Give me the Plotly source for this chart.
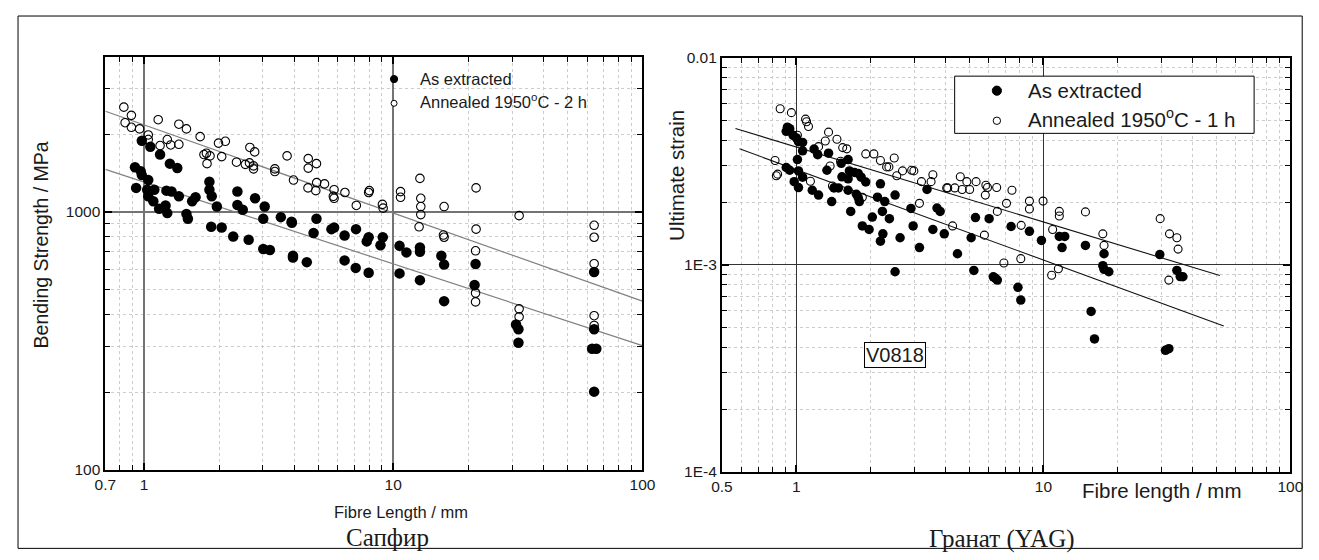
import math
import plotly.graph_objects as go

W, H = 1319, 560

# ---------------- Left panel: Sapphire (bending strength, MPa) ----------------
sap_ext_len = [0.98, 1.06, 1.16, 1.27, 1.36, 0.92, 0.97, 0.98, 1.04, 0.93, 1.03, 1.1, 1.04, 1.09,
               1.15, 1.23, 1.29, 1.22, 1.24, 1.38, 1.48, 1.61, 1.56, 1.83, 1.83, 1.87, 1.96, 2.37,
               2.37, 2.49, 2.79, 3.05, 3.54, 3.91, 3.01, 4.92, 1.5, 1.86, 2.05, 2.28, 2.63, 3.01,
               3.2, 3.92, 3.96, 3.96, 4.5, 4.79, 5.65, 5.79, 6.38, 6.38, 7.09, 7.07, 7.97, 7.83,
               7.97, 9.08, 8.89, 10.6, 11.3, 12.8, 12.8, 10.6, 12.8, 15.6, 16, 16, 21.4, 21.2,
               31.1, 31.8, 31.8, 64, 64, 62.8, 65.3, 64]
sap_ext_str = [1890, 1790, 1670, 1540, 1480, 1490, 1440, 1390, 1330, 1240, 1220, 1220, 1150, 1100,
               1030, 1210, 1200, 1060, 990, 1150, 983, 1140, 1100, 1310, 1220, 1150, 1050, 1200,
               1065, 1020, 1130, 1050, 955, 917, 941, 941, 941, 876, 871, 803, 780, 718,
               712, 909, 676, 666, 639, 829, 858, 871, 810, 649, 858, 607, 798, 769,
               581, 798, 743, 739, 697, 728, 701, 578, 544, 676, 625, 451, 628, 521,
               366, 351, 311, 585, 351, 295, 295, 201]

sap_ann_len = [0.83, 0.89, 0.84, 0.89, 0.96, 1.04, 1.04, 1.14, 1.16, 1.24, 1.28, 1.38, 1.38, 1.48,
               1.68, 1.74, 1.78, 1.84, 1.79, 1.99, 2.12, 2.05, 2.35, 2.55, 2.66, 2.78, 2.65, 2.75,
               2.75, 3.35, 3.35, 3.75, 3.98, 4.56, 4.56, 4.92, 4.55, 4.89, 4.93, 5.3, 5.79, 5.75,
               5.79, 6.4, 7.11, 8.02, 7.97, 9.05, 9.11, 12.8, 10.7, 10.7, 12.9, 12.9, 12.9, 16,
               21.5, 32, 12.7, 15.9, 16, 21.5, 64, 64, 21.4, 21.4, 21.4, 32, 32, 64, 64, 64]
sap_ann_str = [2550, 2370, 2220, 2130, 2100, 1990, 1910, 2280, 1810, 1910, 1820, 1830, 2190, 2100,
               1960, 1670, 1690, 1650, 1540, 1850, 1880, 1640, 1560, 1530, 1780, 1710, 1550, 1510,
               1470, 1470, 1435, 1650, 1330, 1610, 1480, 1540, 1240, 1210, 1300, 1285, 1220, 1150,
               1130, 1190, 1060, 1210, 1190, 1070, 1035, 1350, 1200, 1140, 1130, 1050, 977, 1050,
               1240, 968, 876, 814, 798, 858, 888, 798, 707, 485, 448, 421, 392, 630, 396, 363]

# fitted lines (end points)
sap_fit_ann_len = [0.7, 100]
sap_fit_ann_str = [2460, 451]
sap_fit_ext_len = [0.7, 100]
sap_fit_ext_str = [1463, 303]

# ---------------- Right panel: YAG (ultimate strain) ----------------
yag_ext_len = [0.92, 0.91, 0.94, 0.97, 1.0, 1.02, 1.06, 1.06, 1.18, 1.22, 1.35, 1.01, 0.91, 0.94,
               1.02, 1.33, 0.98, 1.02, 1.06, 1.16, 1.23, 1.52, 1.62, 1.64, 1.53, 1.62, 1.72, 1.78,
               1.83, 1.91, 1.42, 1.48, 1.62, 1.75, 1.78, 1.80, 1.39, 1.66, 2.19, 2.13, 2.28, 2.51,
               2.23, 2.03, 2.38, 1.85, 1.97, 2.24, 2.19, 2.63, 2.91, 2.97, 3.38, 3.71, 3.82, 3.57,
               3.97, 3.15, 4.49, 2.51, 5.23, 5.31, 5.10, 6.03, 7.40, 8.78, 9.82, 11.6, 12.2, 11.9,
               14.8, 17.6, 6.27, 6.51, 6.40, 7.89, 8.10, 17.4, 17.6, 18.4, 15.6, 16.1, 29.6, 34.7,
               35.8, 36.7, 31.2, 32.2]
yag_ext_strain = [4.62e-3, 4.41e-3, 4.54e-3, 4.22e-3, 4.10e-3, 3.93e-3, 3.90e-3, 3.55e-3, 3.62e-3,
                  3.40e-3, 3.46e-3, 3.22e-3, 2.95e-3, 2.86e-3, 2.84e-3, 2.86e-3, 2.52e-3, 2.36e-3,
                  2.65e-3, 2.29e-3, 2.17e-3, 3.09e-3, 3.22e-3, 2.84e-3, 2.66e-3, 2.60e-3, 2.79e-3,
                  2.76e-3, 2.65e-3, 2.51e-3, 2.35e-3, 2.35e-3, 2.29e-3, 2.19e-3, 2.11e-3, 2.02e-3,
                  2.02e-3, 1.81e-3, 2.46e-3, 2.12e-3, 2.02e-3, 2.17e-3, 1.81e-3, 1.70e-3, 1.67e-3,
                  1.54e-3, 1.48e-3, 1.41e-3, 1.30e-3, 1.35e-3, 1.87e-3, 1.54e-3, 2.31e-3, 1.88e-3,
                  1.81e-3, 1.48e-3, 1.41e-3, 1.21e-3, 1.13e-3, 0.925e-3, 0.939e-3, 1.69e-3, 1.35e-3,
                  1.67e-3, 1.53e-3, 1.45e-3, 1.31e-3, 1.37e-3, 1.37e-3, 1.21e-3, 1.24e-3, 1.13e-3,
                  0.874e-3, 0.843e-3, 0.86e-3, 0.778e-3, 0.675e-3, 0.99e-3, 0.95e-3, 0.925e-3,
                  0.595e-3, 0.438e-3, 1.12e-3, 0.939e-3, 0.877e-3, 0.875e-3, 0.386e-3, 0.393e-3]

yag_ann_len = [0.86, 0.955, 1.09, 1.10, 1.12, 1.35, 1.31, 1.46, 1.54, 1.60, 1.23, 1.91, 2.06, 2.19,
               2.32, 2.37, 2.49, 2.69, 2.55, 2.93, 2.99, 3.21, 3.57, 3.51, 4.10, 0.82, 0.83, 0.84,
               1.14, 1.37, 1.40, 1.51, 1.85, 3.15, 4.29, 1.01, 4.61, 4.90, 5.34, 4.06, 4.38, 4.69,
               5.03, 5.85, 5.94, 5.82, 6.47, 7.46, 7.09, 8.78, 8.78, 9.97, 6.51, 8.13, 11.6, 11.6,
               14.8, 10.9, 17.4, 29.7, 32.4, 34.7, 5.77, 17.6, 35.1, 6.92, 8.10, 10.8, 11.5, 32.2]
yag_ann_strain = [5.67e-3, 5.43e-3, 5.05e-3, 4.91e-3, 4.65e-3, 4.37e-3, 3.96e-3, 4.04e-3, 3.68e-3,
                  3.63e-3, 3.72e-3, 3.43e-3, 3.43e-3, 3.19e-3, 2.97e-3, 2.97e-3, 3.28e-3, 2.84e-3,
                  2.69e-3, 2.86e-3, 2.84e-3, 2.52e-3, 2.72e-3, 2.52e-3, 2.35e-3, 3.19e-3, 2.69e-3,
                  2.74e-3, 2.53e-3, 3.00e-3, 2.40e-3, 3.16e-3, 2.12e-3, 1.98e-3, 1.54e-3, 4.22e-3,
                  2.66e-3, 2.52e-3, 2.52e-3, 2.35e-3, 2.35e-3, 2.31e-3, 2.31e-3, 2.42e-3, 2.36e-3,
                  2.17e-3, 2.36e-3, 2.29e-3, 1.98e-3, 2.03e-3, 1.86e-3, 2.03e-3, 1.81e-3, 1.55e-3,
                  1.81e-3, 1.72e-3, 1.80e-3, 1.48e-3, 1.41e-3, 1.67e-3, 1.41e-3, 1.35e-3, 1.39e-3,
                  1.24e-3, 1.19e-3, 1.02e-3, 1.07e-3, 0.89e-3, 0.956e-3, 0.843e-3]

yag_fit_ann_len = [0.567, 51.8]
yag_fit_ann_strain = [4.55e-3, 8.87e-4]
yag_fit_ext_len = [0.589, 53.7]
yag_fit_ext_strain = [3.63e-3, 5.06e-4]

# tick labels
left_x_ticks = [0.7, 1, 10, 100]
left_x_ticktext = ["0.7", "1", "10", "100"]
left_y_ticks = [100, 1000]
left_y_ticktext = ["100", "1000"]
right_x_ticks = [0.5, 1, 10, 100]
right_x_ticktext = ["0.5", "1", "10", "100"]
right_y_ticks = [1e-4, 1e-3, 1e-2]
right_y_ticktext = ["1E-4", "1E-3", "0.01"]

legend_left = ["As extracted", "Annealed 1950<sup>o</sup>C - 2 h"]
legend_right = ["As extracted", "Annealed 1950<sup>o</sup>C - 1 h"]

SANS = "Liberation Sans, Arial, sans-serif"
SERIF = "Liberation Serif, Times New Roman, serif"
INK = "#1a1a1a"

# the page body adds an 8 px margin; layout positions are given in screen pixels
OX, OY = 8, 8


def px(x):
    return (x - OX) / W


def py(y):
    return 1 - (y - OY) / H


fig = go.Figure()

# left panel traces
fig.add_trace(go.Scatter(x=sap_fit_ann_len, y=sap_fit_ann_str, mode="lines",
                         line=dict(color="#808080", width=1.2), xaxis="x", yaxis="y", showlegend=False))
fig.add_trace(go.Scatter(x=sap_fit_ext_len, y=sap_fit_ext_str, mode="lines",
                         line=dict(color="#808080", width=1.2), xaxis="x", yaxis="y", showlegend=False))
fig.add_trace(go.Scatter(x=sap_ext_len, y=sap_ext_str, mode="markers", name=legend_left[0],
                         marker=dict(symbol="circle", size=10.5, color="black", line=dict(width=0)),
                         xaxis="x", yaxis="y", showlegend=False))
fig.add_trace(go.Scatter(x=sap_ann_len, y=sap_ann_str, mode="markers", name=legend_left[1],
                         marker=dict(symbol="circle-open", size=8.5, color="black", line=dict(width=1.1)),
                         xaxis="x", yaxis="y", showlegend=False))

# right panel traces
fig.add_trace(go.Scatter(x=yag_fit_ann_len, y=yag_fit_ann_strain, mode="lines",
                         line=dict(color="#111111", width=1.1), xaxis="x2", yaxis="y2", showlegend=False))
fig.add_trace(go.Scatter(x=yag_fit_ext_len, y=yag_fit_ext_strain, mode="lines",
                         line=dict(color="#111111", width=1.1), xaxis="x2", yaxis="y2", showlegend=False))
fig.add_trace(go.Scatter(x=yag_ext_len, y=yag_ext_strain, mode="markers", name=legend_right[0],
                         marker=dict(symbol="circle", size=9.5, color="black", line=dict(width=0)),
                         xaxis="x2", yaxis="y2", showlegend=False))
fig.add_trace(go.Scatter(x=yag_ann_len, y=yag_ann_strain, mode="markers", name=legend_right[1],
                         marker=dict(symbol="circle-open", size=8, color="black", line=dict(width=1.1)),
                         xaxis="x2", yaxis="y2", showlegend=False))


def log_axis(domain, rng, tickvals, ticktext, minor_vals, major_grid, major_grid_w, font_size, anchor):
    return dict(
        type="log", domain=domain, range=rng, anchor=anchor,
        tickmode="array", tickvals=tickvals, ticktext=ticktext,
        ticks="inside", ticklen=7, tickwidth=1.5, tickcolor="black",
        showline=True, linecolor="black", linewidth=2, mirror="ticks",
        showgrid=True, gridcolor=major_grid, gridwidth=major_grid_w,
        zeroline=False,
        tickfont=dict(family=SANS, size=font_size, color=INK),
        minor=dict(tickmode="array", tickvals=minor_vals, ticks="inside", ticklen=5,
                   tickwidth=1.2, tickcolor="black", showgrid=True, gridcolor="#cccccc",
                   griddash="dot", gridwidth=1),
    )


def decade(base, ks):
    return [k * base for k in ks]


left_x_minor = [0.8, 0.9] + decade(1, range(2, 10)) + decade(10, range(2, 10))
left_y_minor = decade(100, range(2, 10)) + [2000, 3000]
right_x_minor = [0.6, 0.7, 0.8, 0.9] + decade(1, range(2, 10)) + decade(10, range(2, 10))
right_y_minor = decade(1e-4, range(2, 10)) + decade(1e-3, range(2, 10))

fig.update_layout(
    width=W, height=H,
    margin=dict(l=0, r=0, t=0, b=0),
    paper_bgcolor="white", plot_bgcolor="white",
    showlegend=False,
    xaxis=log_axis([px(96), px(643)], [math.log10(0.7), 2], left_x_ticks, left_x_ticktext,
                   left_x_minor, "#737373", 1.6, 15.5, "y"),
    yaxis=log_axis([py(475), py(49)], [2, math.log10(4000)], left_y_ticks, left_y_ticktext,
                   left_y_minor, "#737373", 1.6, 15.5, "x"),
    xaxis2=log_axis([px(724), px(1303)], [math.log10(0.5), 2], right_x_ticks, right_x_ticktext,
                    right_x_minor, "#333333", 1, 15.5, "y2"),
    yaxis2=log_axis([py(477), py(50)], [-4, -2], right_y_ticks, right_y_ticktext,
                    right_y_minor, "#333333", 1, 15.5, "x2"),
)

shapes = []
# outer frame
shapes.append(dict(type="rect", xref="paper", yref="paper", x0=px(7), x1=px(1315), y0=py(556), y1=py(7),
                   line=dict(color="black", width=1), fillcolor="rgba(0,0,0,0)", layer="below"))
# right legend box
shapes.append(dict(type="rect", xref="paper", yref="paper", x0=px(961), x1=px(1266), y0=py(128), y1=py(69),
                   line=dict(color="black", width=1), fillcolor="white", layer="above"))


def circle(cx, cy, r, filled):
    return dict(type="circle", xref="paper", yref="paper", xsizemode="pixel", ysizemode="pixel",
                xanchor=px(cx), yanchor=py(cy), x0=-r, x1=r, y0=-r, y1=r,
                line=dict(color="black", width=1), fillcolor="black" if filled else "white", layer="above")


shapes.append(circle(390, 72, 3.6, True))
shapes.append(circle(390, 97, 3, False))
shapes.append(circle(1004, 84, 4.6, True))
shapes.append(circle(1004, 115, 3.7, False))

annotations = []


def text(x, y, s, size, family=SANS, xanchor="center", angle=0):
    annotations.append(dict(x=px(x), y=py(y), xref="paper", yref="paper", text=s, showarrow=False,
                            xanchor=xanchor, yanchor="middle", textangle=angle,
                            font=dict(family=family, size=size, color=INK)))


text(414, 72, legend_left[0], 16.5, xanchor="left")
text(414, 95, legend_left[1], 16.5, xanchor="left")
text(1034, 84, legend_right[0], 20.5, xanchor="left")
text(1034, 112, legend_right[1], 20.5, xanchor="left")
text(30, 243, "Bending Strength / MPa", 19.5, angle=-90)
text(397, 518, "Fibre Length / mm", 16.5)
text(677, 171, "Ultimate strain", 20.5, angle=-90)
text(1172, 496, "Fibre length / mm", 20.5)
text(383, 545, "Сапфир", 25, family=SERIF)
text(1009, 546, "Гранат (YAG)", 25, family=SERIF)
annotations.append(dict(x=px(900.5), y=py(356.5), xref="paper", yref="paper", text="V0818", showarrow=False,
                        xanchor="center", yanchor="middle", bordercolor="black", borderwidth=1, borderpad=1,
                        bgcolor="white", font=dict(family=SANS, size=20, color=INK)))

fig.update_layout(shapes=shapes, annotations=annotations)

fig.write_html("out.html")
